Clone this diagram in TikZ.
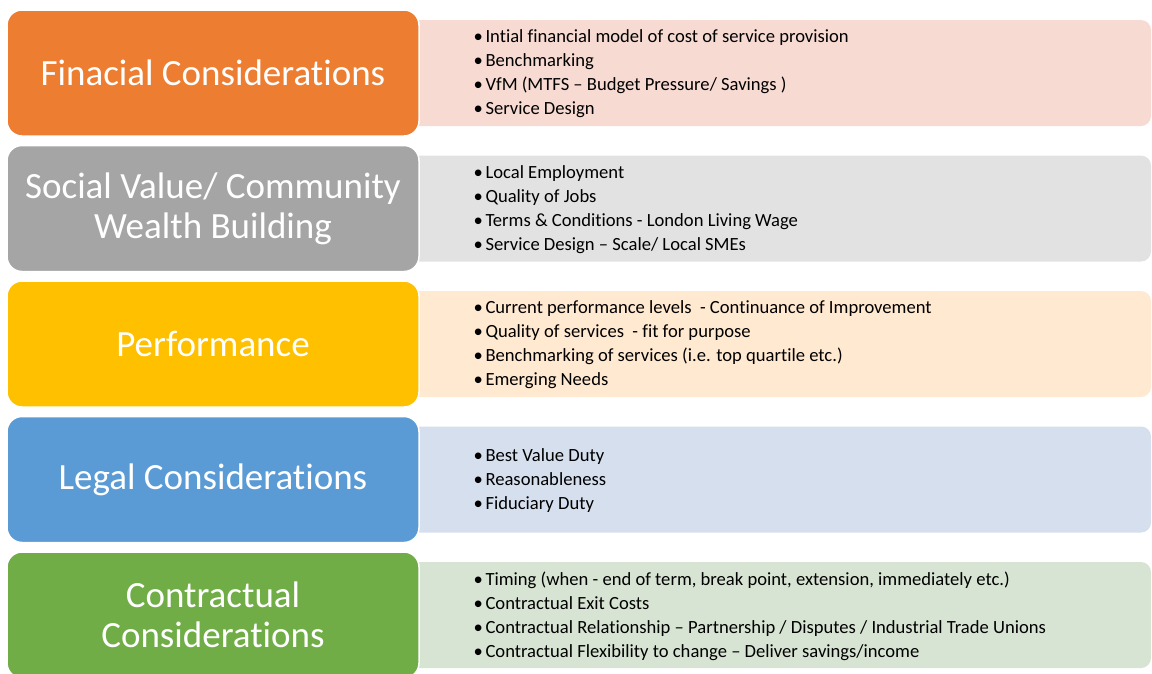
\documentclass[tikz,border=0pt]{standalone}
\usepackage{fontspec}
\setmainfont[Ligatures=NoCommon, Contextuals=NoAlternate]{Carlito}
\definecolor{finorange}{HTML}{ED7D31}
\definecolor{socgray}{HTML}{A5A5A5}
\definecolor{perfyellow}{HTML}{FFC000}
\definecolor{legblue}{HTML}{5B9BD5}
\definecolor{congreen}{HTML}{70AD47}
\definecolor{finlight}{HTML}{F7DAD2}
\definecolor{soclight}{HTML}{E2E2E2}
\definecolor{perflight}{HTML}{FFE9D0}
\definecolor{leglight}{HTML}{D5DFEE}
\definecolor{conlight}{HTML}{D8E4D3}
\tikzstyle{category}=[draw=white, line width=1.5pt, rounded corners=15pt,
  minimum width=412pt, minimum height=126pt, text=white, align=center,
  font=\fontsize{37}{40}\selectfont]
\tikzstyle{panel}=[rounded corners=10pt, minimum width=760pt, minimum height=106pt]
\tikzstyle{items}=[anchor=west, align=left, font=\fontsize{18.6}{24}\selectfont]
\newcommand{\itm}{\makebox[12pt][l]{•}}

\begin{document}
\begin{tikzpicture}[x=1pt, y=-1pt]
      \useasboundingbox (0, 0) rectangle (1152, 673);

      % light panels behind the headings
      \node[panel, fill=finlight] (fin_panel) at (771, 73) {};
      \node[panel, fill=soclight] (soc_panel) at (771, 208.5) {};
      \node[panel, fill=perflight] (perf_panel) at (771, 344) {};
      \node[panel, fill=leglight] (leg_panel) at (771, 479.5) {};
      \node[panel, fill=conlight] (con_panel) at (771, 615) {};

      % headings
      \node[category, fill=finorange] (fin) at (213, 73) {Finacial Considerations};
      \node[category, fill=socgray] (soc) at (213, 208.5) {Social Value/ Community\\Wealth Building};
      \node[category, fill=perfyellow] (perf) at (213, 344) {Performance};
      \node[category, fill=legblue] (leg) at (213, 479.5) {Legal Considerations};
      \node[category, fill=congreen] (con) at (213, 615) {Contractual\\Considerations};

      % bullet lists
      \node[items] (fin_items) at (470, 74) {%
        \itm Intial financial model of cost of service provision\\
        \itm Benchmarking\\
        \itm VfM (MTFS – Budget Pressure/ Savings )\\
        \itm Service Design};
      \node[items] (soc_items) at (470, 210) {%
        \itm Local Employment\\
        \itm Quality of Jobs\\
        \itm Terms \& Conditions - London Living Wage\\
        \itm Service Design – Scale/ Local SMEs};
      \node[items] (perf_items) at (470, 345) {%
        \itm Current performance levels~ - Continuance of Improvement\\
        \itm Quality of services~ - fit for purpose\\
        \itm Benchmarking of services (i.e. top quartile etc.)\\
        \itm Emerging Needs};
      \node[items] (leg_items) at (470, 481) {%
        \itm Best Value Duty\\
        \itm Reasonableness\\
        \itm Fiduciary Duty};
      \node[items] (con_items) at (470, 616) {%
        \itm Timing (when - end of term, break point, extension, immediately etc.)\\
        \itm Contractual Exit Costs\\
        \itm Contractual Relationship – Partnership / Disputes / Industrial Trade Unions\\
        \itm Contractual Flexibility to change – Deliver savings/income};
    \end{tikzpicture}
\end{document}
